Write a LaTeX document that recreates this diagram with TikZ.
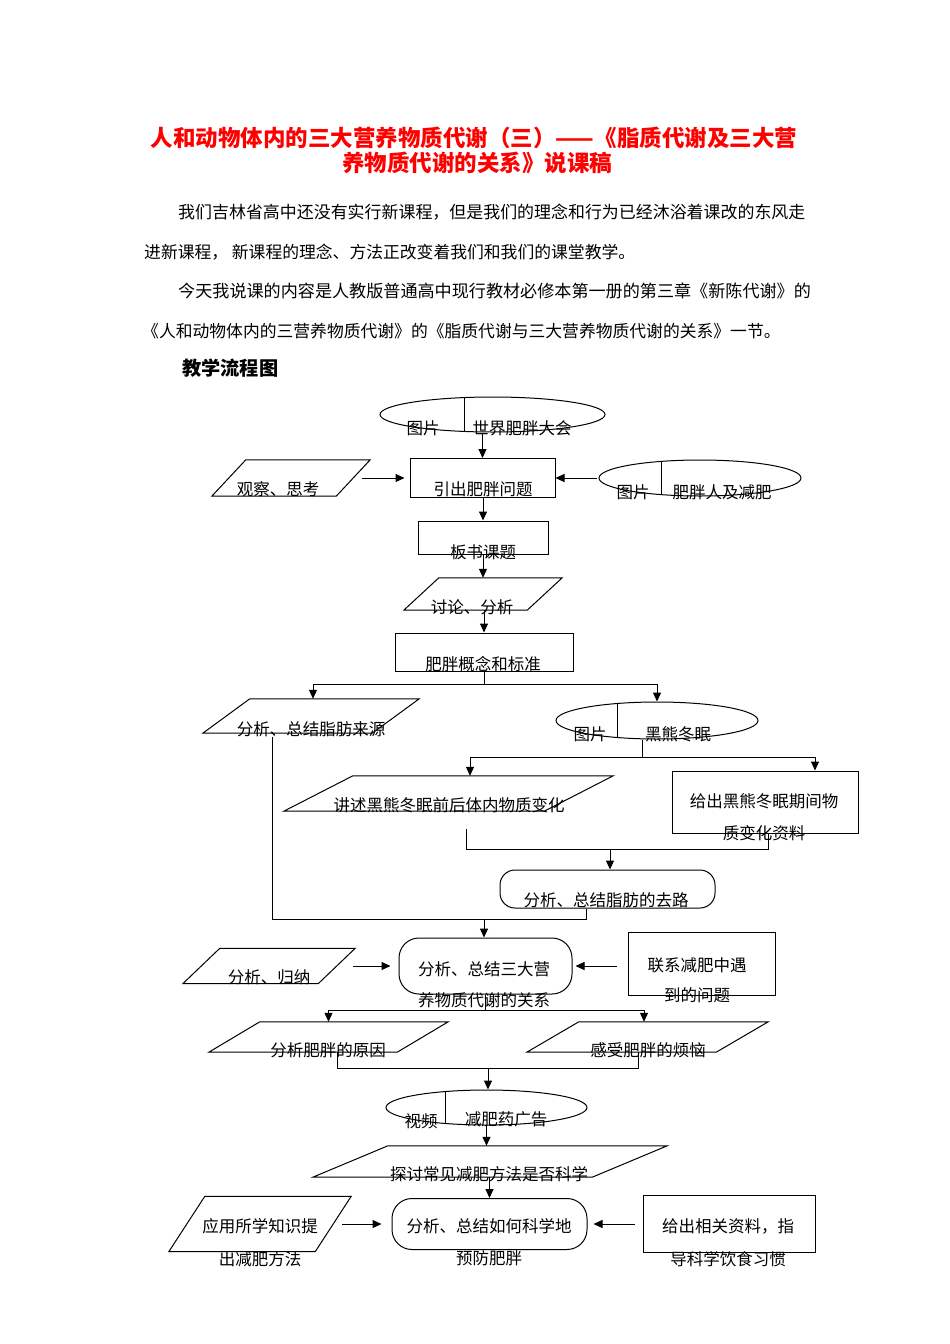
\documentclass[tikz,border=0pt]{standalone}
\usepackage{fontspec}
\newfontfamily\cjk{Noto Sans CJK SC}
\usetikzlibrary{arrows.meta,calc,shapes.geometric}
\definecolor{titlered}{RGB}{255,0,0}
\tikzset{
  shp/.style={draw=black, line width=1pt},
  ln/.style={draw=black, line width=1pt},
  arr/.style={draw=black, line width=1pt, -{Triangle[length=9pt,width=8pt]}},
  txt/.style={inner sep=0pt, yshift=-4pt, text height=0.88em, text depth=0.12em, font=\cjk\fontsize{16.5pt}{18pt}\selectfont},
  bodytxt/.style={inner sep=0pt, yshift=-4pt, anchor=west, text height=0.88em, text depth=0.12em},
  titletxt/.style={inner sep=0pt, yshift=-5.5pt, text height=0.88em, text depth=0.12em, text=titlered, font=\cjk\bfseries\fontsize{22.5pt}{26pt}\selectfont},
}
\newcommand\parabox[6]{%
  \node[inner sep=0pt, minimum width=#4pt, minimum height=#5pt] (#1) at (#2,#3) {};
  \draw[shp] (#1.south west) -- ($(#1.north west)+(#6,0)$) -- (#1.north east) -- ($(#1.south east)+(-#6,0)$) -- cycle;
}
\newcommand\ellbox[6]{%
  \node[shp, ellipse, inner sep=0pt, minimum width=#4pt, minimum height=#5pt] (#1) at (#2,#3) {};
  \pgfmathsetmacro\edy{#5/2*sqrt(1-((#6)/(#4/2))^2)}
  \draw[shp] ($(#1.center)+(#6,-\edy)$) -- ($(#1.center)+(#6,\edy)$);
}
\newcommand\rectbox[5]{%
  \node[shp, inner sep=0pt, minimum width=#4pt, minimum height=#5pt] (#1) at (#2,#3) {};
}
\newcommand\rndbox[6]{%
  \node[shp, rounded corners=#6pt, inner sep=0pt, minimum width=#4pt, minimum height=#5pt] (#1) at (#2,#3) {};
}
\begin{document}
\begin{tikzpicture}[x=1pt,y=-1pt]
\useasboundingbox[fill=white] (0,0) rectangle (950,1344);

% ---------- title ----------
\node[titletxt] (title1) at (474,137) {人和动物体内的三大营养物质代谢（三）——《脂质代谢及三大营};
\node[titletxt] (title2) at (477,162) {养物质代谢的关系》说课稿};

% ---------- body ----------
\node[bodytxt, font=\cjk\fontsize{16.95pt}{20pt}\selectfont] (line1) at (178,211) {我们吉林省高中还没有实行新课程，但是我们的理念和行为已经沐浴着课改的东风走};
\node[bodytxt, font=\cjk\fontsize{16.8pt}{20pt}\selectfont] (line2) at (144,251) {进新课程， 新课程的理念、方法正改变着我们和我们的课堂教学。};
\node[bodytxt, font=\cjk\fontsize{17.1pt}{20pt}\selectfont] (line3) at (178,290) {今天我说课的内容是人教版普通高中现行教材必修本第一册的第三章《新陈代谢》的};
\node[bodytxt, font=\cjk\fontsize{16.8pt}{20pt}\selectfont] (line4) at (142,330) {《人和动物体内的三营养物质代谢》的《脂质代谢与三大营养物质代谢的关系》一节。};
\node[bodytxt, yshift=-1pt, font=\cjk\bfseries\fontsize{19.2pt}{22pt}\selectfont] (flowhead) at (182,367) {教学流程图};

% ---------- shapes ----------
\ellbox{e1}{492.5}{414.5}{225}{35}{-28.5}
\rectbox{b1}{482.5}{478}{145}{39}
\parabox{p1}{291}{478}{158}{36}{34}
\ellbox{e2}{700}{478}{202}{36}{-39}
\rectbox{b2}{483}{537.5}{130}{33}
\parabox{p2}{483}{594}{158}{32}{35}
\rectbox{b3}{484}{652}{178}{38}
\parabox{p3}{311}{716}{216}{34}{47}
\ellbox{e3}{657}{720.5}{202}{37}{-40}
\parabox{p4}{448.5}{793.5}{329}{35}{69}
\rectbox{b4}{765}{802}{186}{62}
\rndbox{b5}{607.5}{889}{215}{38}{15}
\rndbox{b6}{485.5}{966}{173}{56}{20}
\parabox{p5}{269}{966}{172}{35}{37}
\rectbox{b7}{701.5}{964}{147}{63}
\parabox{p6}{328.5}{1037}{239}{30}{51}
\parabox{p7}{647.5}{1037}{241}{30}{52}
\ellbox{e4}{486.5}{1107.5}{201}{35}{-41.5}
\parabox{p8}{490}{1161.5}{354}{31}{75}
\rndbox{b8}{489.5}{1224}{195}{51}{20}
\parabox{p9}{260}{1224}{182}{55}{36}
\rectbox{b9}{729}{1224}{172}{57}

% ---------- texts ----------
\node[txt] (e1a) at (423,427) {图片};
\node[txt] (e1b) at (522,427) {世界肥胖大会};
\node[txt] (b1t) at (483,488) {引出肥胖问题};
\node[txt] (p1t) at (278,488) {观察、思考};
\node[txt] (e2a) at (633,491) {图片};
\node[txt] (e2b) at (722,491) {肥胖人及减肥};
\node[txt] (b2t) at (483,551) {板书课题};
\node[txt] (p2t) at (472,606) {讨论、分析};
\node[txt] (b3t) at (483,663) {肥胖概念和标准};
\node[txt] (p3t) at (311,728) {分析、总结脂肪来源};
\node[txt] (e3a) at (590,733) {图片};
\node[txt] (e3b) at (678,733) {黑熊冬眠};
\node[txt] (p4t) at (449,804) {讲述黑熊冬眠前后体内物质变化};
\node[txt] (b4a) at (764,800) {给出黑熊冬眠期间物};
\node[txt] (b4b) at (764,832) {质变化资料};
\node[txt] (b5t) at (606,899) {分析、总结脂肪的去路};
\node[txt] (p5t) at (269,976) {分析、归纳};
\node[txt] (b6a) at (484,968) {分析、总结三大营};
\node[txt] (b6b) at (484,999) {养物质代谢的关系};
\node[txt] (b7a) at (697,964) {联系减肥中遇};
\node[txt] (b7b) at (697,994) {到的问题};
\node[txt] (p6t) at (328,1049) {分析肥胖的原因};
\node[txt] (p7t) at (648,1049) {感受肥胖的烦恼};
\node[txt] (e4a) at (421,1120) {视频};
\node[txt] (e4b) at (506,1118) {减肥药广告};
\node[txt] (p8t) at (489,1173) {探讨常见减肥方法是否科学};
\node[txt] (b8a) at (489,1225) {分析、总结如何科学地};
\node[txt] (b8b) at (489,1257) {预防肥胖};
\node[txt] (p9a) at (260,1225) {应用所学知识提};
\node[txt] (p9b) at (260,1258) {出减肥方法};
\node[txt] (b9a) at (728,1225) {给出相关资料，指};
\node[txt] (b9b) at (728,1258) {导科学饮食习惯};

% ---------- connectors ----------
\draw[arr] (b1.north |- e1.south) -- (b1.north);
\draw[arr] ($(p1.east)+(-8,0)$) -- ($(b1.west)+(-5,0)$);
\draw[arr] ($(e2.west)+(-2,0)$) -- (b1.east);
\draw[arr] (b2.north |- b1.south) -- (b2.north);
\draw[arr] (b2.south) -- (b2.south |- p2.north);
\draw[arr] (b3.north |- p2.south) -- (b3.north);

\coordinate (j1) at ($(b3.south)+(0,13)$);
\draw[ln] (b3.south) -- (j1);
\draw[arr] (j1) -| ($(p3.north)+(2,0)$);
\draw[arr] (j1) -| (e3.north);

\coordinate (j2) at (642,757);
\draw[ln] (e3.south -| j2) -- (j2);
\draw[arr] (j2) -| ($(p4.north)+(21.5,0)$);
\draw[arr] (j2) -| ($(b4.north)+(50,0)$);

\draw[ln] ($(p4.south)+(17.5,18)$) |- ($(b4.south)+(3,16)$) -- ($(b4.south)+(3,0)$);
\coordinate (j3) at (610,849);
\draw[arr] (j3) -- (j3 |- b5.north);

\draw[ln] ($(p3.south)+(-39,4)$) |- ($(b5.south)+(-21.5,11)$) -- ($(b5.south)+(-21.5,0)$);
\coordinate (j4) at (484,919);
\draw[arr] (j4) -- (j4 |- b6.north);

\draw[arr] ($(p5.east)+(-2,0)$) -- ($(b6.west)+(-8,0)$);
\draw[arr] ($(b7.west)+(-11,2)$) -- ($(b6.east)+(3,0)$);

\coordinate (j5) at ($(b6.south)+(0,16)$);
\draw[ln] (b6.south) -- (j5);
\draw[arr] (j5) -| (p6.north);
\draw[arr] (j5) -| ($(p7.north)+(-3.5,0)$);

\draw[ln] ($(p6.south)+(8.5,0)$) |- ($(p7.south)+(-9.5,16)$) -- ($(p7.south)+(-9.5,0)$);
\coordinate (j6) at (488,1068);
\draw[arr] (j6) -- (j6 |- e4.north);

\draw[arr] (e4.south) -- (e4.south |- p8.north);
\draw[arr] (b8.north |- p8.south) -- (b8.north);
\draw[arr] ($(p9.east)+(-9,0)$) -- ($(b8.west)+(-10,0)$);
\draw[arr] ($(b9.west)+(-8,0)$) -- ($(b8.east)+(6,0)$);
\end{tikzpicture}
\end{document}
